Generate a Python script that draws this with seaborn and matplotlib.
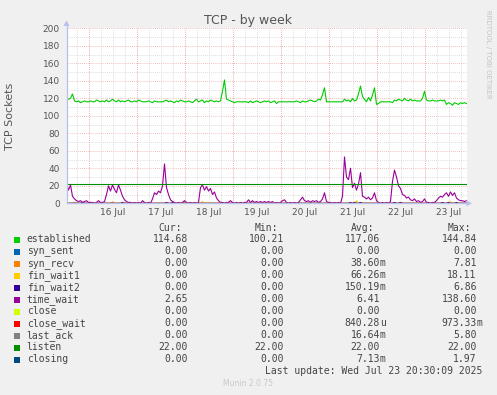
import matplotlib
matplotlib.use("Agg")
import matplotlib.pyplot as plt
from matplotlib.patches import Polygon, Rectangle
import numpy as np
import pandas as pd
import seaborn as sns

plt.rcParams["font.family"] = ["DejaVu Sans"]

# hours since Jul 15 13:00, one sample per hour
hours = list(range(201))

established = [
    118, 119, 120, 125, 117, 116, 117, 115, 116, 117,
    116, 116, 117, 116, 116, 118, 117, 116, 117, 116,
    118, 116, 117, 119, 117, 116, 118, 116, 117, 116,
    117, 118, 116, 116, 117, 116, 118, 117, 116, 116,
    116, 117, 116, 115, 117, 116, 116, 116, 116, 117,
    118, 116, 117, 116, 115, 117, 116, 118, 117, 116,
    116, 117, 116, 115, 117, 119, 116, 117, 118, 115,
    117, 116, 118, 117, 116, 117, 116, 117, 128, 141,
    119, 118, 117, 116, 115, 116, 116, 116, 116, 116,
    116, 115, 117, 115, 116, 117, 116, 115, 116, 117,
    116, 117, 115, 116, 117, 114, 116, 116, 116, 116,
    116, 116, 116, 116, 116, 117, 116, 115, 117, 116,
    116, 117, 118, 117, 116, 117, 119, 118, 124, 132,
    116, 116, 116, 116, 116, 116, 116, 116, 116, 119,
    117, 118, 116, 120, 117, 118, 125, 134, 122, 119,
    116, 121, 117, 124, 132, 113, 114, 116, 116, 116,
    116, 116, 116, 115, 118, 117, 119, 118, 117, 120,
    118, 117, 119, 117, 118, 117, 117, 117, 120, 128,
    118, 117, 117, 118, 117, 117, 117, 118, 117, 118,
    113, 115, 114, 112, 115, 114, 113, 115, 114, 115, 114,
]

time_wait = [
    22, 15, 21, 8, 5, 3, 2, 3, 1, 2,
    3, 1, 1, 1, 0, 1, 3, 1, 1, 2,
    10, 20, 14, 21, 16, 12, 21, 15, 8, 4,
    2, 1, 1, 0, 1, 0, 1, 0, 3, 1,
    0, 1, 0, 5, 12, 10, 14, 12, 20, 45,
    18, 10, 4, 2, 1, 0, 1, 0, 1, 3,
    1, 0, 1, 0, 1, 0, 1, 18, 21, 15,
    19, 14, 17, 10, 13, 6, 3, 1, 1, 0,
    1, 1, 3, 1, 0, 1, 0, 1, 0, 1,
    1, 4, 1, 3, 1, 2, 1, 2, 1, 2,
    1, 2, 1, 2, 0, 1, 0, 1, 3, 4,
    1, 0, 1, 0, 1, 0, 1, 4, 7, 3,
    2, 3, 1, 3, 2, 3, 1, 2, 5, 12,
    2, 1, 1, 0, 1, 0, 1, 0, 8, 53,
    30, 27, 40, 18, 23, 15, 22, 35, 8, 7,
    5, 7, 4, 6, 12, 3, 1, 0, 1, 0,
    1, 0, 2, 25, 38, 30, 20, 17, 10, 9,
    6, 7, 4, 3, 5, 2, 3, 1, 2, 5,
    1, 1, 0, 1, 1, 3, 6, 8, 7, 10,
    12, 8, 13, 9, 12, 6, 4, 3, 3, 2, 3,
]

listen = [22] * 201

# small blips of the near-zero series (hour -> value)
syn_recv_blips = {4: 1, 23: 1.5, 59: 2}
fin_wait1_blips = {68: 2, 145: 3, 192: 2}
fin_wait2_blips = {8: 1, 28: 1, 32: 1, 50: 1, 53: 1, 142: 1, 144: 1, 147: 1,
                   164: 1, 167: 1, 188: 1, 191: 1, 195: 1}

names = ["established", "syn_sent", "syn_recv", "fin_wait1", "fin_wait2",
         "time_wait", "close", "close_wait", "last_ack", "listen", "closing"]
colors = ["#00CC00", "#0066B3", "#FF8000", "#FFCC00", "#330099", "#990099",
          "#CCFF00", "#FF0000", "#808080", "#008F00", "#00487D"]
cur_vals = ["114.68", "0.00", "0.00", "0.00", "0.00", "2.65", "0.00", "0.00",
            "0.00", "22.00", "0.00"]
min_vals = ["100.21", "0.00", "0.00", "0.00", "0.00", "0.00", "0.00", "0.00",
            "0.00", "22.00", "0.00"]
avg_vals = ["117.06", "0.00", "38.60m", "66.26m", "150.19m", "6.41", "0.00",
            "840.28u", "16.64m", "22.00", "7.13m"]
max_vals = ["144.84", "0.00", "7.81", "18.11", "6.86", "138.60", "0.00",
            "973.33m", "5.80", "22.00", "1.97"]

day_labels = ["16 Jul", "17 Jul", "18 Jul", "19 Jul", "20 Jul", "21 Jul",
              "22 Jul", "23 Jul"]


def blips_to_series(blips):
    vals = [0.0] * len(hours)
    for h, v in blips.items():
        vals[h] = v
    return vals


series = {
    "established": established,
    "syn_sent": [0.0] * 201,
    "syn_recv": blips_to_series(syn_recv_blips),
    "fin_wait1": blips_to_series(fin_wait1_blips),
    "fin_wait2": blips_to_series(fin_wait2_blips),
    "time_wait": time_wait,
    "close": [0.0] * 201,
    "close_wait": [0.0] * 201,
    "last_ack": [0.0] * 201,
    "listen": listen,
    "closing": [0.0] * 201,
}

frames = [pd.DataFrame({"hour": hours, "value": series[n], "series": n}) for n in names]
df = pd.concat(frames, ignore_index=True)

W, H = 497, 395
fig = plt.figure(figsize=(W / 100, H / 100), dpi=100)
fig.patch.set_facecolor("#F0F0F0")

# plot area in pixels
px_left, px_right, px_top, px_bottom = 66.5, 466.5, 28.3, 203.3
ax = fig.add_axes([px_left / W, (H - px_bottom) / H,
                   (px_right - px_left) / W, (px_bottom - px_top) / H])
ax.set_facecolor("white")
ax.set_xlim(0, 200)
ax.set_ylim(0, 200)

# grid
dot = (0, (1, 1.5))
for y in range(10, 200, 20):
    ax.axhline(y, color="#d4d4d4", lw=0.6, ls=dot, zorder=0)
for x in range(5, 200, 6):
    ax.axvline(x, color="#d4d4d4", lw=0.6, ls=dot, zorder=0)
for y in range(20, 201, 20):
    ax.axhline(y, color="#f2a8a8", lw=0.6, ls=dot, zorder=0.5)
for x in range(11, 200, 24):
    ax.axvline(x, color="#f2a8a8", lw=0.6, ls=dot, zorder=0.5)

sns.lineplot(data=df, x="hour", y="value", hue="series", hue_order=names,
             palette=dict(zip(names, colors)), estimator=None, legend=False,
             linewidth=0.8, ax=ax)

for s in ax.spines.values():
    s.set_visible(False)
ax.set_xlabel("")
ax.set_ylabel("")
ax.set_yticks(range(0, 201, 20))
ax.set_xticks([23 + 24 * k for k in range(len(day_labels))])
ax.set_xticklabels(day_labels)
ax.tick_params(axis="both", length=0, labelsize=6.5, labelcolor="#555555")
ax.tick_params(axis="y", pad=4.7)
ax.tick_params(axis="x", pad=3.4)

# overlay in pixel coordinates for axis arrows, title and legend
ov = fig.add_axes([0, 0, 1, 1])
ov.set_xlim(0, W)
ov.set_ylim(H, 0)
ov.axis("off")
ov.patch.set_alpha(0)

axis_col = "#b8c0f0"
ov.plot([px_left, px_left], [px_bottom, 25], color=axis_col, lw=0.9)
ov.plot([px_left, 467], [px_bottom, px_bottom], color=axis_col, lw=0.9)
ov.add_patch(Polygon([[px_left - 3, 26], [px_left + 3, 26], [px_left, 20.5]],
                     closed=True, color=axis_col, lw=0))
ov.add_patch(Polygon([[466.5, px_bottom - 3], [466.5, px_bottom + 3], [472, px_bottom]],
                     closed=True, color=axis_col, lw=0))

ov.text(248.5, 24, "TCP - by week", ha="center", va="baseline", fontsize=9,
        color="#555555")
ov.text(10.5, 116, "TCP Sockets", ha="center", va="center", rotation=90,
        fontsize=8, color="#555555")
ov.text(488, 54, "RRDTOOL / TOBI OETIKER", ha="center", va="center",
        rotation=270, fontsize=5, color="#c4c4c4")

mono = "DejaVu Sans Mono"
txt = "#444444"
col_x = [187.7, 284, 380, 476.7]
headers = ["Cur:", "Min:", "Avg:", "Max:"]
for x, h in zip(col_x, headers):
    ov.text(x - 5.8, 231, h, ha="right", va="baseline", family=mono,
            fontsize=7, color=txt)


def put_value(x, y, s):
    if s[-1].isalpha():
        ov.text(x, y, s[:-1], ha="right", va="baseline", family=mono,
                fontsize=7, color=txt)
        ov.text(x, y, s[-1], ha="left", va="baseline", family=mono,
                fontsize=7, color=txt)
    else:
        ov.text(x, y, s, ha="right", va="baseline", family=mono,
                fontsize=7, color=txt)


for i, name in enumerate(names):
    base = 242.5 + 12 * i
    ov.add_patch(Rectangle((14, 236.7 + 12 * i), 6, 6, color=colors[i], lw=0))
    ov.text(26.7, base, name, ha="left", va="baseline", family=mono,
            fontsize=7, color=txt)
    for x, vals in zip(col_x, [cur_vals, min_vals, avg_vals, max_vals]):
        put_value(x, base, vals[i])

ov.text(482.7, 374.5, "Last update: Wed Jul 23 20:30:09 2025", ha="right",
        va="baseline", family=mono, fontsize=7, color=txt)
ov.text(248, 384, "Munin 2.0.75", ha="center", va="center", fontsize=5.5,
        color="#c8c8c8")

fig.savefig("out.png", dpi=100, facecolor=fig.get_facecolor())
